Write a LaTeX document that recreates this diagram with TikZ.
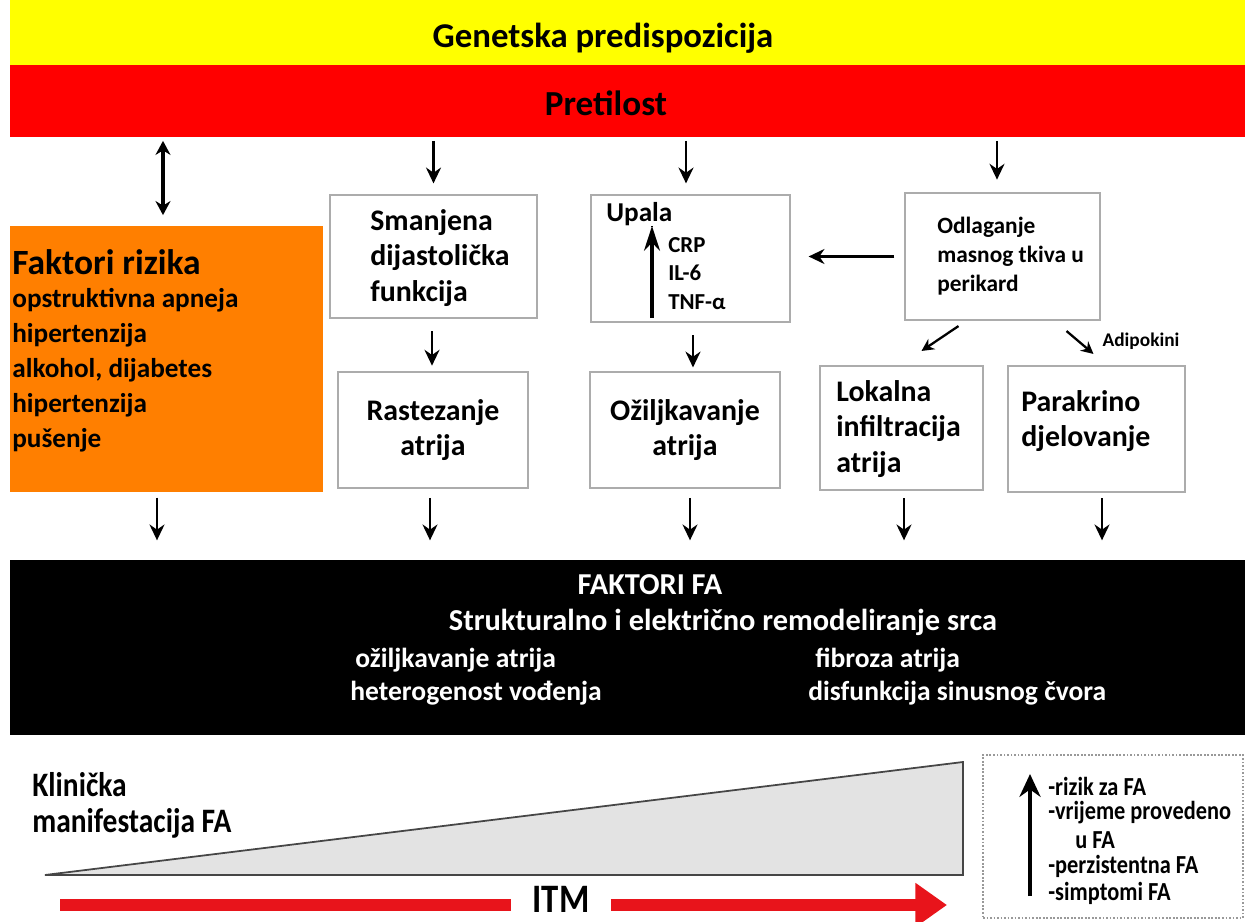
\documentclass[tikz,border=0pt]{standalone}
\usepackage{fontspec}
\setmainfont{Carlito}
\usetikzlibrary{arrows.meta,calc}
\definecolor{yel}{HTML}{FFFF00}
\definecolor{rd}{HTML}{FF0000}
\definecolor{org}{HTML}{FF7F00}
\definecolor{arrred}{HTML}{E8141B}
\newcommand{\fs}[2]{\fontsize{#1}{#2}\selectfont}
\newcommand{\cond}[1]{\scalebox{0.86}[1]{#1}}
\begin{document}
\begin{tikzpicture}[x=0.02cm,y=-0.02cm,
  every node/.style={font=\bfseries, text=black},
  arr/.style={-{Stealth[length=9pt,width=8.5pt]}, line width=1.6pt},
  thinarr/.style={-{Stealth[length=7pt,width=7pt]}, line width=1.3pt},
  band/.style={inner sep=0pt, minimum width=24.7cm},
  box/.style={draw=gray!65, line width=1.2pt, fill=white, inner sep=0pt},
  boxtxt/.style={font=\bfseries\fs{17}{20.4}},
  intxt/.style={boxtxt, anchor=west, align=left, inner sep=0pt},
  lst/.style={anchor=west, font=\bfseries\fs{15.5}{18}},
  wtxt/.style={text=white, font=\bfseries\fs{15.7}{18}},
  wtxtb/.style={text=white, font=\bfseries\fs{17.3}{20}},
  rtxt/.style={anchor=west, font=\bfseries\fs{14.8}{16}},
  redline/.style={draw=arrred, line width=6.8pt}
]
\useasboundingbox (0,0) rectangle (1247,922);
\fill[white] (0,0) rectangle (1247,922);

% bands
\node[band, fill=yel, minimum height=1.32cm] (gen) at (627.5,33) {};
\node[font=\bfseries\fs{19.8}{22}] (gentxt) at (603,38) {Genetska predispozicija};
\node[band, fill=rd, minimum height=1.44cm] (pre) at (627.5,101) {};
\node[font=\bfseries\fs{20}{24}] (pretxt) at (606,103) {Pretilost};

% orange risk factors
\node[fill=org, inner sep=0pt, minimum width=6.26cm, minimum height=5.32cm] (or) at (166.5,359) {};
\node[anchor=west, inner sep=0pt, font=\bfseries\fs{20.2}{22}] (fr) at (12,262) {Faktori rizika};
\node[lst, inner sep=0pt] (l1) at (12,300) {opstruktivna apneja};
\node[lst, inner sep=0pt] (l2) at (12,335) {hipertenzija};
\node[lst, inner sep=0pt] (l3) at (12,370) {alkohol, dijabetes};
\node[lst, inner sep=0pt] (l4) at (12,405) {hipertenzija};
\node[lst, inner sep=0pt] (l5) at (12,440) {pušenje};

% boxes
\node[box, minimum width=4.14cm, minimum height=2.46cm] (sm) at (433.5,256.5) {};
\node[intxt] (smt) at (370,258) {Smanjena\\dijastolička\\funkcija};
\node[box, minimum width=3.98cm, minimum height=2.54cm] (up) at (690.5,258.5) {};
\node[anchor=west, inner sep=0pt, font=\bfseries\fs{15.5}{18}] (upt) at (606,214) {Upala};
\node[anchor=west, inner sep=0pt, font=\bfseries\fs{13}{16}] (crp) at (668,245) {CRP};
\node[anchor=west, inner sep=0pt, font=\bfseries\fs{13}{16}] (il) at (668,273) {IL-6};
\node[anchor=west, inner sep=0pt, font=\bfseries\fs{13}{16}] (tnf) at (668,302) {TNF-α};
\coordinate (ua) at (652,318);
\coordinate (ub) at (652,226);
\draw[line width=2.8pt, -{Stealth[length=14pt,width=9pt]}] (ua) -- (ub);
\draw[line width=0.8pt] (ub) -- (upt.south -| ub);
\node[box, minimum width=3.9cm, minimum height=2.54cm] (od) at (1002.5,256.5) {};
\node[anchor=west, align=left, inner sep=0pt, font=\bfseries\fs{13.3}{16.5}] (odt) at (937,256) {Odlaganje\\masnog tkiva u\\perikard};

\node[box, minimum width=3.8cm, minimum height=2.32cm, boxtxt, align=center] (ra) at (433,430) {Rastezanje\\atrija};
\node[box, minimum width=3.8cm, minimum height=2.32cm, boxtxt, align=center] (oz) at (685,430) {Ožiljkavanje\\atrija};
\node[box, minimum width=3.26cm, minimum height=2.48cm] (lo) at (901.5,428) {};
\node[intxt] (lot) at (836,429) {Lokalna\\infiltracija\\atrija};
\node[box, minimum width=3.54cm, minimum height=2.52cm] (pa) at (1096.5,429) {};
\node[intxt] (pat) at (1021,421) {Parakrino\\djelovanje};
\node[font=\bfseries\fs{11}{13}] (adi) at (1141,341) {Adipokini};

% black band
\node[band, fill=black, minimum height=3.5cm] (fa) at (627.5,647.5) {};
\node[wtxtb] (fa1) at (650,585) {FAKTORI FA};
\node[wtxtb] (fa2) at (723,622) {Strukturalno i električno remodeliranje srca};
\node[wtxt, anchor=west, inner sep=0pt] (fa3) at (355,660) {ožiljkavanje atrija};
\node[wtxt, anchor=west, inner sep=0pt] (fa4) at (815,660) {fibroza atrija};
\node[wtxt, anchor=west, inner sep=0pt] (fa5) at (350,693) {heterogenost vođenja};
\node[wtxt, anchor=west, inner sep=0pt] (fa6) at (808,693) {disfunkcija sinusnog čvora};

% arrows from band
\draw[{Stealth[length=8pt,width=8.5pt]}-{Stealth[length=8pt,width=8.5pt]}, line width=1.8pt, shorten <=2pt, shorten >=6pt] (pre.south -| 163,0) -- (or.north -| 163,0);
\draw[arr, shorten <=2pt, shorten >=6pt] (pre.south -| sm.north) -- (sm.north);
\draw[arr, shorten <=2pt, shorten >=6pt] (pre.south -| 686,0) -- (up.north -| 686,0);
\draw[arr, shorten <=2pt, shorten >=7pt] (pre.south -| 997,0) -- (od.north -| 997,0);

% internal arrows
\draw[arr, shorten <=7pt, shorten >=3pt] (sm.south -| 432,0) -- (ra.north -| 432,0);
\draw[arr, shorten <=7pt, shorten >=2pt] (up.south -| 693,0) -- (oz.north -| 693,0);
\draw[arr, shorten <=5.5pt, shorten >=10pt] (od.west) -- (od.west -| up.east);
\draw[thinarr] ($(od.south)+(-44,5)$) -- ($(lo.north)+(20,-14)$);
\draw[thinarr] ($(od.south)+(64,10)$) -- ($(pa.north)+(-3,-11)$);

% arrows to black band
\draw[arr, shorten <=3pt, shorten >=11pt] (or.south -| 157,0) -- (fa.north -| 157,0);
\draw[arr, shorten <=5pt, shorten >=11pt] (ra.south -| 430,0) -- (fa.north -| 430,0);
\draw[arr, shorten <=5pt, shorten >=11pt] (oz.south -| 690,0) -- (fa.north -| 690,0);
\draw[arr, shorten <=4pt, shorten >=11pt] (lo.south -| 904,0) -- (fa.north -| 904,0);
\draw[arr, shorten <=3pt, shorten >=11pt] (pa.south -| 1102,0) -- (fa.north -| 1102,0);

% bottom part
\node[anchor=west, inner sep=0pt, font=\bfseries\fs{19.5}{22}] (kl1) at (32,785) {\cond{Klinička}};
\node[anchor=west, inner sep=0pt, font=\bfseries\fs{19.5}{22}] (kl2) at (32,823) {\cond{manifestacija FA}};
\filldraw[fill=gray!22, draw=gray!55!black, line width=1pt] (45,875) -- (963,762) -- (963,875) -- cycle;

\node[font=\bfseries\fs{23}{24}, inner xsep=12pt, inner ysep=0pt] (itm) at (561,899) {\cond{ITM}};
\coordinate (rs) at (60,905);
\coordinate (re) at (947,905);
\draw[redline] (rs) -- (itm.west |- rs);
\draw[redline, -{Triangle[length=18pt,width=24pt]}] (itm.east |- rs) -- (re);

\node[draw=gray!80, densely dotted, line width=1pt, inner sep=0pt, minimum width=5.2cm, minimum height=3.26cm] (rb) at (1113,836.5) {};
\coordinate (ba) at (1030,896);
\coordinate (bb) at (1030,774);
\draw[line width=2.6pt, -{Stealth[length=13pt,width=12pt]}] (ba) -- (bb);
\node[rtxt, inner sep=0pt] (r1) at (1048,786) {\cond{-rizik za FA}};
\node[rtxt, inner sep=0pt] (r2) at (1048,813) {\cond{-vrijeme provedeno}};
\node[rtxt, inner sep=0pt] (r3) at (1075,840) {\cond{u FA}};
\node[rtxt, inner sep=0pt] (r4) at (1048,866) {\cond{-perzistentna FA}};
\node[rtxt, inner sep=0pt] (r5) at (1048,893) {\cond{-simptomi FA}};
\end{tikzpicture}
\end{document}
